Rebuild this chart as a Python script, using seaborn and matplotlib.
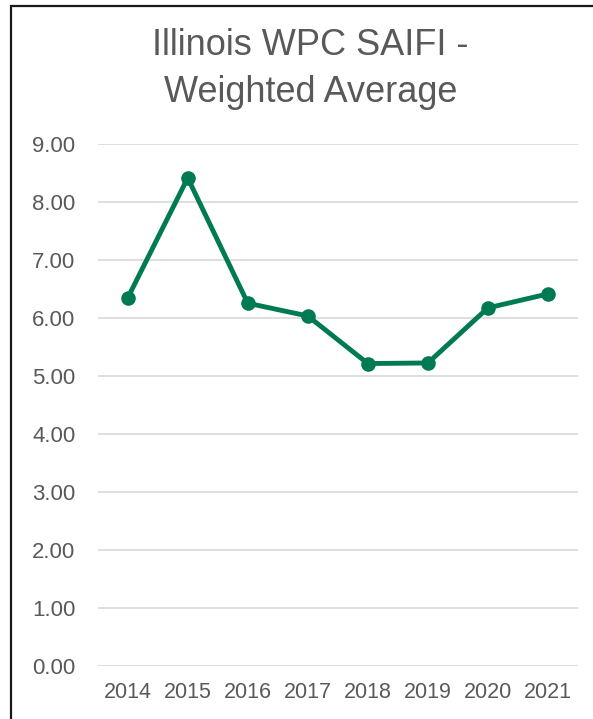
import pandas as pd
import matplotlib.pyplot as plt
import matplotlib.patches as patches
import seaborn as sns

# values
years = ["2014", "2015", "2016", "2017", "2018", "2019", "2020", "2021"]
saifi = [6.34, 8.41, 6.25, 6.03, 5.21, 5.22, 6.17, 6.41]
y_ticks = [0, 1, 2, 3, 4, 5, 6, 7, 8, 9]

df = pd.DataFrame({"year": years, "saifi": saifi})

sns.set_style("white")
plt.rcParams["font.family"] = ["Liberation Sans", "DejaVu Sans"]

fig = plt.figure(figsize=(5.93, 7.19), dpi=100)
ax = fig.add_axes([0.1647, 0.0741, 0.81, 0.726])

# dark frame round the chart (cropped at right and bottom)
fig.patches.append(patches.Rectangle((11 / 593, -0.05), 1.2, 1 - 5.5 / 719 + 0.05,
                                     transform=fig.transFigure, fill=False,
                                     edgecolor="#1a1a1a", linewidth=1.6))

sns.lineplot(data=df, x="year", y="saifi", ax=ax, color="#007A53",
             linewidth=3.5, marker="o", markersize=10.5, markeredgewidth=0, sort=False)

ax.set_xlim(-0.5, len(years) - 0.5)
ax.set_ylim(0, 9)
ax.set_yticks(y_ticks)
ax.set_yticklabels([f"{v:.2f}" for v in y_ticks])
ax.yaxis.grid(True, color="#D9D9D9", linewidth=1.2)
ax.set_axisbelow(True)
for s in ax.spines.values():
    s.set_visible(False)
ax.tick_params(axis="y", length=0, pad=16, labelsize=16, labelcolor="#595959")
ax.tick_params(axis="x", length=0, pad=12, labelsize=15.5, labelcolor="#595959")
ax.set_xlabel("")
ax.set_ylabel("")

# title, two lines
fig.text(310.5 / 593, 1 - 55 / 719, "Illinois WPC SAIFI -", ha="center", va="baseline",
         fontsize=26, color="#595959")
fig.text(310.5 / 593, 1 - 102 / 719, "Weighted Average", ha="center", va="baseline",
         fontsize=26, color="#595959")

fig.savefig("out.png", dpi=100)
